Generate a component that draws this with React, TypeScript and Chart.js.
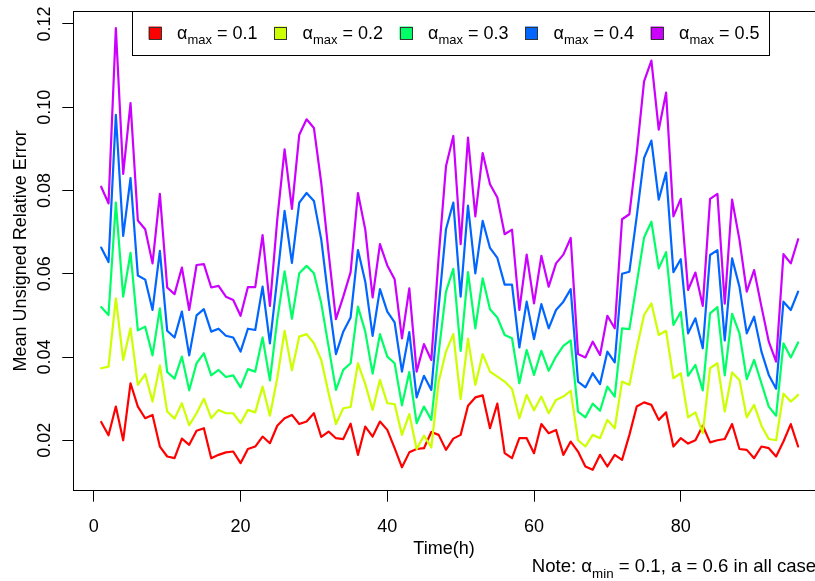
import { useEffect, useRef } from "react";
import { Chart, registerables } from "chart.js";

Chart.register(...registerables);

// ---------------- data ----------------
const HOURS: number[] = Array.from({ length: 96 }, (_, i) => i + 1);

const ALPHA_MAX: string[] = ["0.1", "0.2", "0.3", "0.4", "0.5"];
const COLORS: string[] = ["#FF0000", "#CCFF00", "#00FF66", "#0066FF", "#CC00FF"];

const X_TICKS: number[] = [0, 20, 40, 60, 80];
const Y_TICKS: number[] = [0.02, 0.04, 0.06, 0.08, 0.1, 0.12];
const Y_TICK_LABELS: string[] = ["0.02", "0.04", "0.06", "0.08", "0.10", "0.12"];

const S01: number[] = [
  0.0244, 0.0212, 0.0281, 0.0200, 0.0337, 0.0281, 0.0253, 0.0261, 0.0185, 0.0161,
  0.0157, 0.0204, 0.0189, 0.0223, 0.0229, 0.0157, 0.0165, 0.0171, 0.0173, 0.0145,
  0.0179, 0.0185, 0.0209, 0.0193, 0.0235, 0.0253, 0.0261, 0.0239, 0.0245, 0.0265,
  0.0208, 0.0221, 0.0205, 0.0203, 0.0240, 0.0165, 0.0233, 0.0209, 0.0245, 0.0225,
  0.0181, 0.0135, 0.0171, 0.0179, 0.0181, 0.0220, 0.0213, 0.0177, 0.0204, 0.0213,
  0.0283, 0.0303, 0.0308, 0.0229, 0.0288, 0.0169, 0.0157, 0.0205, 0.0205, 0.0169,
  0.0239, 0.0217, 0.0225, 0.0165, 0.0197, 0.0173, 0.0137, 0.0129, 0.0165, 0.0137,
  0.0165, 0.0153, 0.0213, 0.0281, 0.0291, 0.0285, 0.0249, 0.0267, 0.0185, 0.0205,
  0.0192, 0.0200, 0.0235, 0.0195, 0.0200, 0.0203, 0.0239, 0.0179, 0.0177, 0.0157,
  0.0185, 0.0181, 0.0161, 0.0197, 0.0239, 0.0185,
];

const S02: number[] = [
  0.0373, 0.0377, 0.0541, 0.0393, 0.0469, 0.0333, 0.0359, 0.0293, 0.0380, 0.0269,
  0.0252, 0.0289, 0.0236, 0.0265, 0.0300, 0.0253, 0.0273, 0.0265, 0.0265, 0.0241,
  0.0273, 0.0267, 0.0329, 0.0259, 0.0349, 0.0463, 0.0368, 0.0449, 0.0455, 0.0433,
  0.0393, 0.0313, 0.0239, 0.0277, 0.0280, 0.0385, 0.0335, 0.0273, 0.0345, 0.0289,
  0.0287, 0.0213, 0.0263, 0.0179, 0.0211, 0.0183, 0.0340, 0.0413, 0.0455, 0.0299,
  0.0444, 0.0333, 0.0407, 0.0365, 0.0353, 0.0341, 0.0323, 0.0253, 0.0309, 0.0272,
  0.0305, 0.0265, 0.0297, 0.0305, 0.0319, 0.0200, 0.0185, 0.0213, 0.0205, 0.0249,
  0.0229, 0.0341, 0.0333, 0.0421, 0.0501, 0.0529, 0.0453, 0.0463, 0.0349, 0.0361,
  0.0255, 0.0267, 0.0217, 0.0373, 0.0385, 0.0269, 0.0363, 0.0345, 0.0255, 0.0285,
  0.0235, 0.0203, 0.0200, 0.0312, 0.0293, 0.0309,
];

const S03: number[] = [
  0.0520, 0.0501, 0.0771, 0.0545, 0.0650, 0.0464, 0.0473, 0.0404, 0.0517, 0.0364,
  0.0348, 0.0401, 0.0320, 0.0385, 0.0409, 0.0356, 0.0369, 0.0352, 0.0356, 0.0327,
  0.0371, 0.0365, 0.0447, 0.0344, 0.0490, 0.0606, 0.0492, 0.0601, 0.0619, 0.0601,
  0.0529, 0.0425, 0.0321, 0.0369, 0.0385, 0.0521, 0.0461, 0.0360, 0.0455, 0.0401,
  0.0385, 0.0284, 0.0364, 0.0241, 0.0281, 0.0249, 0.0410, 0.0557, 0.0612, 0.0415,
  0.0604, 0.0469, 0.0589, 0.0515, 0.0495, 0.0453, 0.0445, 0.0337, 0.0417, 0.0357,
  0.0415, 0.0367, 0.0401, 0.0427, 0.0440, 0.0269, 0.0255, 0.0288, 0.0271, 0.0329,
  0.0305, 0.0469, 0.0467, 0.0577, 0.0687, 0.0725, 0.0613, 0.0652, 0.0477, 0.0508,
  0.0355, 0.0381, 0.0320, 0.0505, 0.0520, 0.0356, 0.0504, 0.0457, 0.0347, 0.0393,
  0.0337, 0.0281, 0.0259, 0.0433, 0.0399, 0.0435,
];

const S04: number[] = [
  0.0663, 0.0628, 0.0982, 0.0691, 0.0830, 0.0596, 0.0586, 0.0513, 0.0655, 0.0463,
  0.0447, 0.0509, 0.0404, 0.0500, 0.0515, 0.0461, 0.0468, 0.0451, 0.0447, 0.0413,
  0.0468, 0.0465, 0.0569, 0.0433, 0.0589, 0.0751, 0.0626, 0.0771, 0.0794, 0.0775,
  0.0682, 0.0537, 0.0407, 0.0461, 0.0495, 0.0657, 0.0581, 0.0451, 0.0563, 0.0509,
  0.0483, 0.0365, 0.0460, 0.0303, 0.0355, 0.0321, 0.0520, 0.0707, 0.0771, 0.0545,
  0.0764, 0.0601, 0.0727, 0.0662, 0.0638, 0.0574, 0.0574, 0.0423, 0.0533, 0.0443,
  0.0527, 0.0469, 0.0513, 0.0533, 0.0563, 0.0341, 0.0327, 0.0361, 0.0335, 0.0413,
  0.0387, 0.0600, 0.0605, 0.0738, 0.0878, 0.0920, 0.0778, 0.0843, 0.0604, 0.0635,
  0.0457, 0.0493, 0.0421, 0.0645, 0.0657, 0.0440, 0.0637, 0.0569, 0.0457, 0.0497,
  0.0413, 0.0357, 0.0324, 0.0533, 0.0513, 0.0557,
];

const S05: number[] = [
  0.0809, 0.0769, 0.1190, 0.0840, 0.1010, 0.0728, 0.0707, 0.0625, 0.0792, 0.0567,
  0.0551, 0.0615, 0.0513, 0.0621, 0.0623, 0.0567, 0.0571, 0.0545, 0.0537, 0.0499,
  0.0568, 0.0568, 0.0693, 0.0523, 0.0730, 0.0899, 0.0756, 0.0934, 0.0971, 0.0950,
  0.0818, 0.0650, 0.0491, 0.0545, 0.0604, 0.0794, 0.0706, 0.0543, 0.0671, 0.0620,
  0.0587, 0.0445, 0.0565, 0.0365, 0.0431, 0.0393, 0.0640, 0.0858, 0.0931, 0.0671,
  0.0927, 0.0738, 0.0890, 0.0815, 0.0783, 0.0695, 0.0706, 0.0513, 0.0646, 0.0529,
  0.0643, 0.0569, 0.0625, 0.0646, 0.0686, 0.0407, 0.0399, 0.0437, 0.0405, 0.0499,
  0.0469, 0.0731, 0.0743, 0.0890, 0.1062, 0.1112, 0.0946, 0.1035, 0.0738, 0.0780,
  0.0561, 0.0603, 0.0523, 0.0780, 0.0792, 0.0528, 0.0778, 0.0682, 0.0557, 0.0609,
  0.0521, 0.0437, 0.0389, 0.0647, 0.0625, 0.0683,
];

const SERIES: number[][] = [S01, S02, S03, S04, S05];

const X_TITLE = "Time(h)";
const Y_TITLE = "Mean Unsigned Relative Error";

// ---------------- layout ----------------
const CW = 840;
const CH = 581;
const PLOT_LEFT = 73.3;
const PLOT_RIGHT = 826;
const PLOT_TOP = 11;
const PLOT_BOTTOM = 490.7;
const FONT = '"Liberation Sans", Arial, Helvetica, sans-serif';
const FS = 18;

type Part = { t: string; sub?: boolean };

function drawParts(ctx: CanvasRenderingContext2D, x: number, y: number, parts: Part[], fs: number): number {
  let cx = x;
  for (const p of parts) {
    const size = p.sub ? fs * 0.72 : fs;
    ctx.font = `${size}px ${FONT}`;
    const dy = p.sub ? fs * 0.28 : 0;
    ctx.fillText(p.t, cx, y + dy);
    cx += ctx.measureText(p.t).width;
  }
  return cx - x;
}

const decor = {
  id: "decor",
  afterDraw(chart: any) {
    const ctx: CanvasRenderingContext2D = chart.ctx;
    const area = chart.chartArea;
    const xs = chart.scales.x;
    const ys = chart.scales.y;
    ctx.save();
    // box top & right
    ctx.strokeStyle = "#000";
    ctx.lineWidth = 1;
    ctx.beginPath();
    ctx.moveTo(area.left, Math.round(area.top) + 0.5);
    ctx.lineTo(area.right, Math.round(area.top) + 0.5);
    ctx.lineTo(area.right, area.bottom);
    ctx.stroke();

    ctx.fillStyle = "#000";
    ctx.textBaseline = "alphabetic";
    ctx.font = `${FS}px ${FONT}`;
    // x tick labels
    ctx.textAlign = "center";
    X_TICKS.forEach((v) => {
      ctx.fillText(String(v), xs.getPixelForValue(v), 531.5);
    });
    // x title
    ctx.fillText(X_TITLE, 444, 553.5);
    // y tick labels (rotated)
    Y_TICKS.forEach((v, i) => {
      ctx.save();
      ctx.translate(50, ys.getPixelForValue(v));
      ctx.rotate(-Math.PI / 2);
      ctx.textAlign = "center";
      ctx.fillText(Y_TICK_LABELS[i], 0, 0);
      ctx.restore();
    });
    // y title
    ctx.save();
    ctx.translate(26, (area.top + area.bottom) / 2);
    ctx.rotate(-Math.PI / 2);
    ctx.textAlign = "center";
    ctx.fillText(Y_TITLE, 0, 0);
    ctx.restore();

    // legend
    const lx0 = 132.5, lx1 = 769.5, ly0 = 11.5, ly1 = 55.5;
    ctx.fillStyle = "#fff";
    ctx.fillRect(lx0, ly0, lx1 - lx0, ly1 - ly0);
    ctx.strokeStyle = "#000";
    ctx.strokeRect(lx0, ly0, lx1 - lx0, ly1 - ly0);
    const step = 125.5;
    ctx.textAlign = "left";
    ALPHA_MAX.forEach((a, i) => {
      const sx = 155 + i * step;
      const cy = 33;
      ctx.fillStyle = COLORS[i];
      ctx.fillRect(sx - 6.5, cy - 6.5, 13, 13);
      ctx.strokeStyle = "#333";
      ctx.lineWidth = 1;
      ctx.strokeRect(Math.round(sx - 6.5) + 0.5, Math.round(cy - 6.5) + 0.5, 12, 12);
      ctx.fillStyle = "#000";
      drawParts(ctx, sx + 22, 38.5, [
        { t: "\u03B1" },
        { t: "max", sub: true },
        { t: " = " + a },
      ], FS);
    });

    // note
    ctx.fillStyle = "#000";
    ctx.textAlign = "left";
    drawParts(ctx, 531.7, 572.3, [
      { t: "Note: \u03B1" },
      { t: "min", sub: true },
      { t: " = 0.1, a = 0.6 in all cases" },
    ], 18.6);
    ctx.restore();
  },
};

export default function App() {
  const ref = useRef<HTMLCanvasElement>(null);
  useEffect(() => {
    const canvas = ref.current;
    if (!canvas) return;
    const chart = new Chart(canvas, {
      type: "line",
      data: {
        datasets: SERIES.map((s, i) => ({
          label: "alpha_max = " + ALPHA_MAX[i],
          data: s.map((v, j) => ({ x: HOURS[j], y: v })),
          borderColor: COLORS[i],
          backgroundColor: COLORS[i],
          borderWidth: 2.2,
          pointRadius: 0,
          pointHoverRadius: 0,
          tension: 0,
          fill: false,
          borderJoinStyle: "round" as const,
          borderCapStyle: "round" as const,
          order: 4 - i,
        })),
      },
      options: {
        responsive: false,
        animation: false,
        devicePixelRatio: 1,
        events: [],
        layout: { padding: { top: PLOT_TOP, right: CW - PLOT_RIGHT, left: 0, bottom: 0 } },
        plugins: {
          legend: { display: false },
          tooltip: { enabled: false },
          title: { display: false },
        },
        scales: {
          x: {
            type: "linear",
            min: -2.8,
            max: 99.8,
            afterBuildTicks: (s: any) => {
              s.ticks = X_TICKS.map((v) => ({ value: v }));
            },
            afterFit: (s: any) => {
              s.height = CH - PLOT_BOTTOM;
            },
            ticks: { display: false },
            grid: { drawOnChartArea: false, drawTicks: true, tickLength: 11, color: "#000", lineWidth: 1 },
            border: { display: true, color: "#000", width: 1 },
          },
          y: {
            type: "linear",
            min: 0.00789,
            max: 0.12312,
            afterBuildTicks: (s: any) => {
              s.ticks = Y_TICKS.map((v) => ({ value: v }));
            },
            afterFit: (s: any) => {
              s.width = PLOT_LEFT;
            },
            ticks: { display: false },
            grid: { drawOnChartArea: false, drawTicks: true, tickLength: 11, color: "#000", lineWidth: 1 },
            border: { display: true, color: "#000", width: 1 },
          },
        },
      },
      plugins: [decor],
    });
    return () => chart.destroy();
  }, []);

  return (
    <div style={{ position: "absolute", left: 0, top: 0, width: 815, height: 581, overflow: "hidden", background: "#fff" }}>
      <canvas ref={ref} width={CW} height={CH} style={{ display: "block" }} />
    </div>
  );
}
